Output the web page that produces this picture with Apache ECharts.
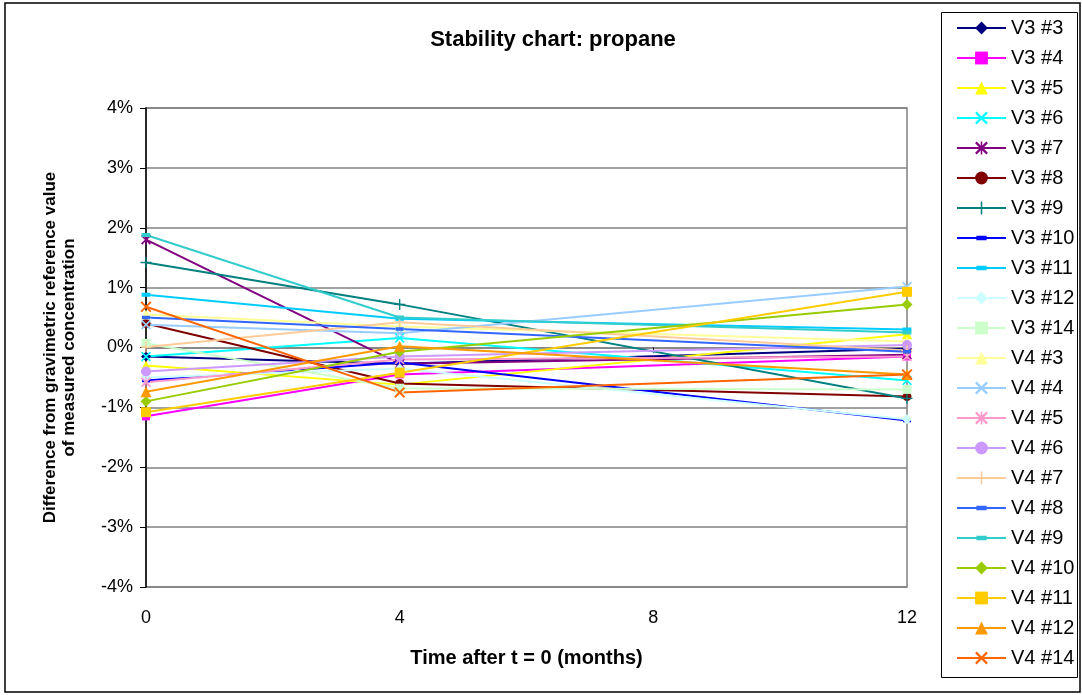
<!DOCTYPE html>
<html><head><meta charset="utf-8">
<script src="https://cdn.jsdelivr.net/npm/echarts@6/dist/echarts.min.js"></script>
<style>html,body{margin:0;padding:0;background:#fff}#c{width:1082px;height:695px}</style>
</head><body><div id="c"></div>
<script>
const months = [0, 4, 12];
const yTicks = [-4, -3, -2, -1, 0, 1, 2, 3, 4];
const xTicks = [0, 4, 8, 12];
const seriesNames = ["V3 #3","V3 #4","V3 #5","V3 #6","V3 #7","V3 #8","V3 #9","V3 #10","V3 #11","V3 #12","V3 #14",
  "V4 #3","V4 #4","V4 #5","V4 #6","V4 #7","V4 #8","V4 #9","V4 #10","V4 #11","V4 #12","V4 #14"];
// values in percent at months 0, 4, 12
const v3_3  = [-0.15, -0.27, -0.02];
const v3_4  = [-1.15, -0.45, -0.15];
const v3_5  = [-0.30, -0.62, 0.22];
const v3_6  = [-0.15, 0.16, -0.55];
const v3_7  = [1.80, -0.27, -0.12];
const v3_8  = [0.40, -0.60, -0.82];
const v3_9  = [1.42, 0.72, -0.85];
const v3_10 = [-0.55, -0.25, -1.22];
const v3_11 = [0.88, 0.48, 0.30];
const v3_12 = [-0.50, -0.35, -1.20];
const v3_14 = [0.07, -0.68, -0.70];
const v4_3  = [0.55, 0.35, 0.10];
const v4_4  = [0.38, 0.24, 1.02];
const v4_5  = [-0.58, -0.20, -0.15];
const v4_6  = [-0.40, -0.15, 0.04];
const v4_7  = [0.01, 0.42, -0.05];
const v4_8  = [0.50, 0.31, -0.07];
const v4_9  = [1.88, 0.50, 0.25];
const v4_10 = [-0.90, -0.07, 0.72];
const v4_11 = [-1.08, -0.42, 0.93];
const v4_12 = [-0.74, 0.02, -0.45];
const v4_14 = [0.68, -0.75, -0.45];
const allValues = [v3_3,v3_4,v3_5,v3_6,v3_7,v3_8,v3_9,v3_10,v3_11,v3_12,v3_14,
  v4_3,v4_4,v4_5,v4_6,v4_7,v4_8,v4_9,v4_10,v4_11,v4_12,v4_14];

const colors = ["#000080","#FF00FF","#FFFF00","#00FFFF","#800080","#800000","#008080","#0000FF","#00CCFF","#CCFFFF","#CCFFCC",
  "#FFFF99","#99CCFF","#FF99CC","#CC99FF","#FFCC99","#3366FF","#33CCCC","#99CC00","#FFCC00","#FF9900","#FF6600"];
const X = 'path://M0,1.2L1.2,0L10,8.8L8.8,10ZM8.8,0L10,1.2L1.2,10L0,8.8Z';
const STAR = 'path://M0,1.2L1.2,0L10,8.8L8.8,10ZM8.8,0L10,1.2L1.2,10L0,8.8ZM4.4,0L5.6,0L5.6,10L4.4,10Z';
const PLUS = 'path://M4.4,0L5.6,0L5.6,4.4L10,4.4L10,5.6L5.6,5.6L5.6,10L4.4,10L4.4,5.6L0,5.6L0,4.4L4.4,4.4Z';
const DASH = 'path://M1,3.2L9,3.2L9,6.8L1,6.8ZM0,0L0,0ZM10,10L10,10Z';
const shapes = [['diamond',10],['rect',8],['triangle',10],[X,10],[STAR,10],['circle',9],[PLUS,11],[DASH,10],[DASH,11],['diamond',10],['rect',9],
  ['triangle',10],[X,10],[STAR,10],['circle',10],[PLUS,11],[DASH,10],[DASH,11],['diamond',11],['rect',10],['triangle',11],[X,11]];

const FONT = 'Liberation Sans, Arial, sans-serif';
const series = seriesNames.map((n,i)=>({
  name:n, type:'line', data: months.map((m,j)=>[m, allValues[i][j]]),
  symbol: shapes[i][0], symbolSize: shapes[i][1], symbolKeepAspect:true,
  lineStyle:{color:colors[i], width:2}, itemStyle:{color:colors[i]}, showSymbol:true,
  animation:false
}));

const chart = echarts.init(document.getElementById('c'), null, {renderer:'canvas'});
chart.setOption({
  animation:false,
  backgroundColor:'#fff',
  title:{text:'Stability chart: propane', left:548, top:24, textAlign:'center',
    textStyle:{fontFamily:FONT, fontSize:22, fontWeight:'bold', color:'#000'}},
  grid:{left:146, right:175, top:108, bottom:108, show:true, borderColor:'#808080', borderWidth:1.5},
  xAxis:{type:'value', min:0, max:12, interval:4,
    name:'Time after t = 0 (months)', nameLocation:'middle', nameGap:61,
    nameTextStyle:{fontFamily:FONT, fontSize:20, fontWeight:'bold', color:'#000'},
    axisLine:{show:true, lineStyle:{color:'#808080', width:1.5}},
    axisTick:{show:true, length:5, lineStyle:{color:'#000'}},
    splitLine:{show:false},
    axisLabel:{color:'#000', fontFamily:FONT, fontSize:18, margin:22}},
  yAxis:{type:'value', min:-4, max:4, interval:1,
    name:'Difference from gravimetric reference value\nof measured concentration', nameLocation:'middle', nameGap:67,
    nameTextStyle:{fontFamily:FONT, fontSize:17, fontWeight:'bold', color:'#000', lineHeight:19},
    axisLine:{show:true, onZero:false, lineStyle:{color:'#000', width:1.5}},
    axisTick:{show:true, length:6, lineStyle:{color:'#000'}},
    splitLine:{show:true, lineStyle:{color:'#808080', width:1.5}},
    axisLabel:{color:'#000', fontFamily:FONT, fontSize:18, margin:13, formatter:'{value}%'}},
  legend:{orient:'vertical', left:951, top:13, itemWidth:49, itemHeight:16, itemGap:10, padding:5,
    textStyle:{fontFamily:FONT, fontSize:20, color:'#000'},
    data: seriesNames},
  graphic:[
    {type:'rect', shape:{x:5, y:3, width:1075, height:689}, style:{fill:'none', stroke:'#000', lineWidth:1.5}, z:-10, silent:true},
    {type:'rect', shape:{x:941.5, y:12.5, width:136, height:665}, style:{fill:'#fff', stroke:'#000', lineWidth:1}, z:-5, silent:true}
  ],
  series: series
});
</script></body></html>
